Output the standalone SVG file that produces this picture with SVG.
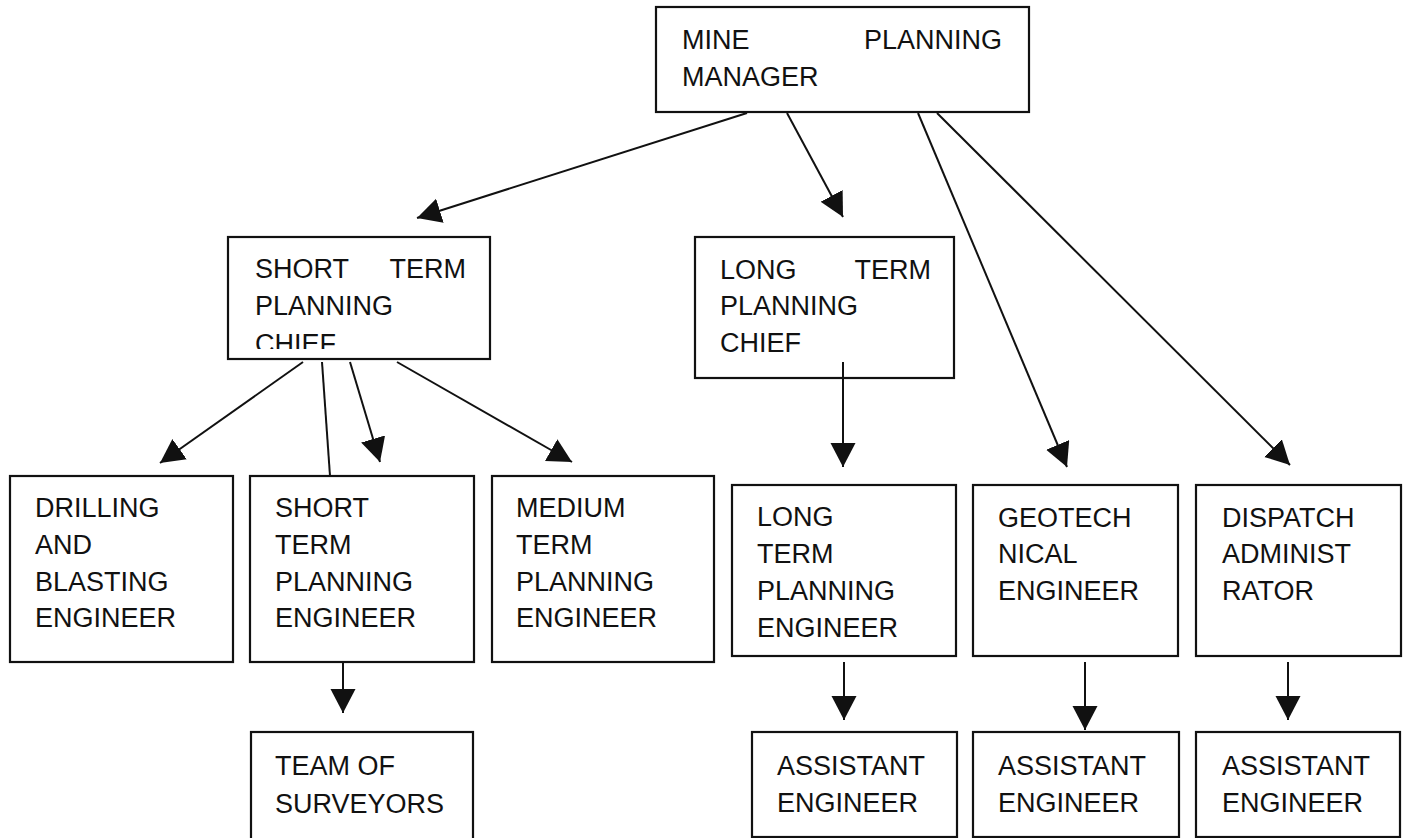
<svg xmlns="http://www.w3.org/2000/svg" width="1407" height="838" viewBox="0 0 1407 838">
<style>
.box{fill:#fff;stroke:#111;stroke-width:2.2}
.t{font-family:"Liberation Sans",Arial,sans-serif;font-size:27px;fill:#111}
.e{text-anchor:end}
.c{fill:none;stroke:#111;stroke-width:2}
</style>
<defs>
<marker id="ah" markerUnits="userSpaceOnUse" markerWidth="26" markerHeight="26" refX="24" refY="12.5" orient="auto" viewBox="0 0 26 26">
<path d="M0,0 L24,12.5 L0,25 z" fill="#111"/>
</marker>
<clipPath id="clipSTPC"><rect x="228" y="237" width="262" height="112"/></clipPath>
</defs>
<rect width="1407" height="838" fill="#fff"/>
<g id="manager">
<rect class="box" x="656" y="7" width="373" height="105"/>
<text class="t" x="682" y="49">MINE</text>
<text class="t e" x="1002" y="49">PLANNING</text>
<text class="t" x="682" y="86">MANAGER</text>
</g>
<g id="short-term-chief">
<rect class="box" x="228" y="237" width="262" height="122"/>
<text class="t" x="255" y="278">SHORT</text>
<text class="t e" x="466" y="278">TERM</text>
<text class="t" x="255" y="315">PLANNING</text>
<text class="t" x="255" y="353" clip-path="url(#clipSTPC)">CHIEF</text>
</g>
<g id="long-term-chief">
<rect class="box" x="695" y="237" width="259" height="141"/>
<text class="t" x="720" y="279">LONG</text>
<text class="t e" x="931" y="279">TERM</text>
<text class="t" x="720" y="315">PLANNING</text>
<text class="t" x="720" y="352">CHIEF</text>
</g>
<g id="drilling">
<rect class="box" x="10" y="476" width="223" height="186"/>
<text class="t" x="35" y="517">DRILLING</text>
<text class="t" x="35" y="554">AND</text>
<text class="t" x="35" y="591">BLASTING</text>
<text class="t" x="35" y="627">ENGINEER</text>
</g>
<g id="short-term-engineer">
<rect class="box" x="250" y="476" width="224" height="186"/>
<text class="t" x="275" y="517">SHORT</text>
<text class="t" x="275" y="554">TERM</text>
<text class="t" x="275" y="591">PLANNING</text>
<text class="t" x="275" y="627">ENGINEER</text>
</g>
<g id="medium-term-engineer">
<rect class="box" x="492" y="476" width="222" height="186"/>
<text class="t" x="516" y="517">MEDIUM</text>
<text class="t" x="516" y="554">TERM</text>
<text class="t" x="516" y="591">PLANNING</text>
<text class="t" x="516" y="627">ENGINEER</text>
</g>
<g id="long-term-engineer">
<rect class="box" x="732" y="485" width="224" height="171"/>
<text class="t" x="757" y="526">LONG</text>
<text class="t" x="757" y="563">TERM</text>
<text class="t" x="757" y="600">PLANNING</text>
<text class="t" x="757" y="637">ENGINEER</text>
</g>
<g id="geotechnical">
<rect class="box" x="973" y="485" width="205" height="171"/>
<text class="t" x="998" y="527">GEOTECH</text>
<text class="t" x="998" y="563">NICAL</text>
<text class="t" x="998" y="600">ENGINEER</text>
</g>
<g id="dispatch">
<rect class="box" x="1196" y="485" width="205" height="171"/>
<text class="t" x="1222" y="527">DISPATCH</text>
<text class="t" x="1222" y="563">ADMINIST</text>
<text class="t" x="1222" y="600">RATOR</text>
</g>
<g id="surveyors">
<rect class="box" x="251" y="732" width="222" height="110"/>
<text class="t" x="275" y="775">TEAM OF</text>
<text class="t" x="275" y="813">SURVEYORS</text>
</g>
<g id="assistant-1">
<rect class="box" x="752" y="732" width="205" height="105"/>
<text class="t" x="777" y="775">ASSISTANT</text>
<text class="t" x="777" y="812">ENGINEER</text>
</g>
<g id="assistant-2">
<rect class="box" x="973" y="732" width="206" height="105"/>
<text class="t" x="998" y="775">ASSISTANT</text>
<text class="t" x="998" y="812">ENGINEER</text>
</g>
<g id="assistant-3">
<rect class="box" x="1196" y="732" width="204" height="105"/>
<text class="t" x="1222" y="775">ASSISTANT</text>
<text class="t" x="1222" y="812">ENGINEER</text>
</g>
<g id="connectors">
<line class="c" x1="747" y1="113" x2="417" y2="218" marker-end="url(#ah)"/>
<line class="c" x1="787" y1="113" x2="843" y2="217" marker-end="url(#ah)"/>
<line class="c" x1="918" y1="113" x2="1067" y2="467" marker-end="url(#ah)"/>
<line class="c" x1="937" y1="113" x2="1290" y2="465" marker-end="url(#ah)"/>
<line class="c" x1="303" y1="362" x2="160" y2="463" marker-end="url(#ah)"/>
<line class="c" x1="322" y1="362" x2="330" y2="476"/>
<line class="c" x1="350" y1="362" x2="380" y2="462" marker-end="url(#ah)"/>
<line class="c" x1="397" y1="362" x2="572" y2="462" marker-end="url(#ah)"/>
<line class="c" x1="843" y1="362" x2="843" y2="467" marker-end="url(#ah)"/>
<line class="c" x1="343" y1="662" x2="343" y2="713" marker-end="url(#ah)"/>
<line class="c" x1="844" y1="662" x2="844" y2="720" marker-end="url(#ah)"/>
<line class="c" x1="1085" y1="662" x2="1085" y2="730" marker-end="url(#ah)"/>
<line class="c" x1="1288" y1="662" x2="1288" y2="720" marker-end="url(#ah)"/>
</g>
</svg>
